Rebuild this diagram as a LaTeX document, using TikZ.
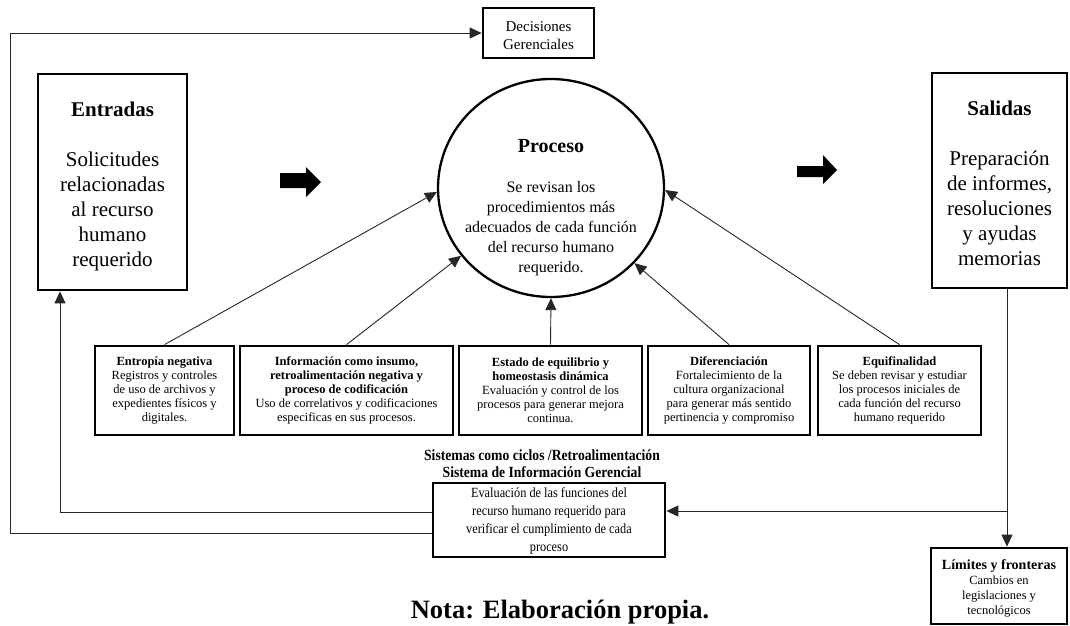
\documentclass[tikz,border=0pt]{standalone}
\usepackage{fontspec}
\setmainfont{Liberation Serif}
\newfontfamily\condfont{Liberation Serif}[FakeStretch=0.88]
\usetikzlibrary{arrows.meta,shapes.geometric}
\begin{document}
\begin{tikzpicture}[x=1pt,y=-1pt,
  box/.style={draw, line width=2.8pt, inner sep=0pt},
  txt/.style={align=center, inner sep=0pt},
  conn/.style={draw=black!85, line width=0.9pt},
  arr/.style={conn, -{Triangle[length=12pt,width=11pt]}},
  big/.style={font=\fontsize{21}{25}\selectfont},
  small/.style={font=\fontsize{12.5}{14}\selectfont},
  blockarrow/.style={fill=black},
]
\useasboundingbox (0,0) rectangle (1070,625);

% main boxes
\node[box, minimum width=149, minimum height=216] (ent) at (112.5,182) {};
\node[txt, big] (entt) at (112.5,186.5)
  {\textbf{Entradas}\\[25pt]Solicitudes\\relacionadas\\al recurso\\humano\\requerido};
\node[box, minimum width=135, minimum height=215] (sal) at (999.5,180.5) {};
\node[txt, big] (salt) at (999.5,183)
  {\textbf{Salidas}\\[25pt]Preparación\\de informes,\\resoluciones\\y ayudas\\memorias};
\node[box, minimum width=111, minimum height=50] (dec) at (538.5,33) {};
\node[txt, font=\fontsize{15}{18}\selectfont] (dect) at (538.5,35.5) {Decisiones\\Gerenciales};

% process circle
\node[draw, ellipse, line width=2.3pt, minimum width=226, minimum height=218, inner sep=0pt] (proc) at (551,188) {};
\node[txt, font=\fontsize{16}{20}\selectfont] (proct) at (551,208)
  {{\fontsize{20}{20}\selectfont\textbf{Proceso}}\\[20pt]Se revisan los\\procedimientos más\\adecuados de cada función\\del recurso humano\\requerido.};

% block arrows
\fill[blockarrow] (280,173) -- (306,173) -- (306,167) -- (321,182) -- (306,197) -- (306,188) -- (280,188) -- cycle;
\fill[blockarrow] (797,166) -- (823,166) -- (823,155) -- (837,170) -- (823,184) -- (823,177) -- (797,177) -- cycle;

% bottom boxes
\node[box, small, align=center, minimum width=139, minimum height=89] (b1) at (164.5,390.5)
  {\textbf{Entropía negativa}\\Registros y controles\\de uso de archivos y\\expedientes físicos y\\digitales.};
\node[box, small, align=center, minimum width=213, minimum height=89] (b2) at (346.5,390.5)
  {\textbf{Información como insumo,}\\\textbf{retroalimentación negativa y}\\\textbf{proceso de codificación}\\Uso de correlativos y codificaciones\\especificas en sus procesos.};
\node[box, small, align=center, minimum width=183, minimum height=89] (b3) at (550.5,390.5)
  {\textbf{Estado de equilibrio y}\\\textbf{homeostasis dinámica}\\Evaluación y control de los\\procesos para generar mejora\\continua.};
\node[box, small, align=center, minimum width=162, minimum height=89] (b4) at (729,390.5)
  {\textbf{Diferenciación}\\Fortalecimiento de la\\cultura organizacional\\para generar más sentido\\pertinencia y compromiso};
\node[box, small, align=center, minimum width=163, minimum height=89] (b5) at (899.5,390.5)
  {\textbf{Equifinalidad}\\Se deben revisar y estudiar\\los procesos iniciales de\\cada función del recurso\\humano requerido};

\draw[arr] (b1.north) -- (proc.182.5);
\draw[arr] (b2.north) -- (proc.217);
\draw[arr] (b3.north) -- (proc.south);
\draw[arr] (b4.north) -- (proc.318);
\draw[arr] (b5.north) -- (proc.359);

% feedback
\node[txt, font=\condfont\bfseries\fontsize{15.5}{17}\selectfont] (sis) at (542,464)
  {Sistemas como ciclos /Retroalimentación\\Sistema de Información Gerencial};
\node[box, minimum width=232, minimum height=74] (ev) at (549,520) {};
\node[txt, font=\condfont\fontsize{14}{18}\selectfont] (evt) at (549,521.5)
  {Evaluación de las funciones del\\recurso humano requerido para\\verificar el cumplimiento de cada\\proceso};

\node[box, minimum width=136, minimum height=76] (lim) at (999,586) {};
\node[txt, font=\fontsize{12.5}{15}\selectfont] (limt) at (999,588)
  {{\fontsize{14}{15}\selectfont\textbf{Límites y fronteras}}\\Cambios en\\legislaciones y\\tecnológicos};

\coordinate (j) at (1007,511);
\draw[conn] (sal.south -| j) -- (j);
\draw[arr] (j) -- (lim.north -| j);
\draw[arr] (j) -- (ev.east |- j);

\coordinate (c1) at (60,512);
\draw[arr] (ev.west |- c1) -- (c1) -- (ent.south -| c1);
\coordinate (c2) at (10,533);
\coordinate (c3) at (10,33);
\draw[arr] (ev.west |- c2) -- (c2) -- (c3) -- (dec.west |- c3);

\node[anchor=base, font=\bfseries\fontsize{26.5}{30}\selectfont, inner sep=0pt] (nota) at (560,618.5) {Nota: Elaboración propia.};
\end{tikzpicture}
\end{document}
